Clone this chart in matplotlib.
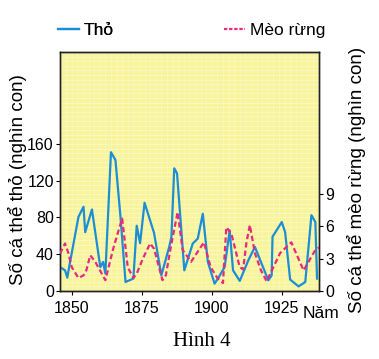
import matplotlib
matplotlib.use("Agg")
import matplotlib.pyplot as plt
from matplotlib import font_manager
from matplotlib.lines import Line2D

# font: narrow sans if available
names = set(f.name for f in font_manager.fontManager.ttflist)
sans = "Liberation Sans Narrow" if "Liberation Sans Narrow" in names else "Liberation Sans"
plt.rcParams['font.family'] = [sans, 'DejaVu Sans']

# hare (Thỏ), thousands
hare_years = [1845.8, 1847.6, 1848.4, 1849.4, 1852.4, 1854.2, 1854.8, 1857.2, 1860.2,
              1861.2, 1862.0, 1864.0, 1865.6, 1867.4, 1869.2, 1872.0, 1873.2, 1874.4,
              1876.0, 1879.4, 1882.0, 1884.8, 1885.6, 1886.6, 1887.6, 1890.2, 1893.2,
              1895.0, 1896.8, 1898.6, 1901.0, 1902.2, 1904.6, 1906.4, 1907.6, 1910.0,
              1913.0, 1915.4, 1920.2, 1921.4, 1921.7, 1925.0, 1926.2, 1928.0, 1931.0,
              1933.4, 1935.6, 1937.0, 1937.6]
hare = [26, 22.5, 14.5, 31.6, 80.7, 91.6, 64, 88.7, 26,
        31.6, 19, 151, 142.5, 80.7, 9.8, 13.5, 71, 52,
        96, 63, 17, 48, 59, 133.5, 128, 22.5, 51.6,
        57, 84, 31.6, 8, 13.5, 26, 66, 22.5, 11,
        33, 48, 11.6, 17, 59, 75, 64, 12.4, 5,
        9.8, 82.5, 75, 13.5]

# lynx (Mèo rừng), thousands
lynx_years = [1845.8, 1847.6, 1848.8, 1850.0, 1852.4, 1854.2, 1855.2, 1856.6, 1858.4,
              1862.0, 1865.0, 1868.0, 1870.0, 1872.0, 1873.2, 1875.4, 1878.0, 1879.4,
              1882.4, 1883.6, 1885.4, 1887.8, 1889.6, 1892.6, 1897.2, 1899.6, 1902.0,
              1904.0, 1905.2, 1907.0, 1910.0, 1911.2, 1912.4, 1913.6, 1915.4, 1917.6,
              1919.6, 1924.4, 1928.4, 1932.8, 1937.0, 1938.8]
lynx = [3.46, 4.4, 3.5, 2.2, 1.2, 1.45, 1.9, 3.3, 2.7,
        1.0, 4.1, 6.7, 2.2, 1.2, 1.6, 3.0, 4.4, 3.9,
        1.0, 1.45, 4.1, 7.3, 3.8, 2.7, 4.5, 2.2, 1.2,
        0.74, 5.9, 5.3, 2.2, 2.0, 4.5, 6.1, 3.5, 1.9,
        0.9, 3.5, 4.5, 1.9, 3.8, 4.1]

hare_ticks = [0, 40, 80, 120, 160]
lynx_ticks = [0, 3, 6, 9]
year_ticks = [1850, 1875, 1900, 1925]

blue = '#1b8ed6'
pink = '#e52a80'

fig = plt.figure(figsize=(3.79, 3.59), dpi=100)
ax = fig.add_axes([60/379, 1-291/359, 259/379, 239/359])
ax.set_facecolor('#f8f49c')

# faint print texture grid
for yy in range(0, 262, 5):
    ax.axhline(yy, color='white', lw=0.5, alpha=0.45, zorder=0)
for xx in range(1846, 1939, 2):
    ax.axvline(xx, color='white', lw=0.5, alpha=0.35, zorder=0)

ax.plot(hare_years, hare, color=blue, lw=1.6, zorder=3)
ax.set_xlim(1845.8, 1938.3)
ax.set_ylim(0, 260)
ax.set_xticks(year_ticks)
ax.set_yticks(hare_ticks)
ax.tick_params(direction='out', length=3, width=0.8, pad=1.5, labelsize=11.5)
ax.tick_params(axis='x', pad=4)

ax2 = ax.twinx()
ax2.plot(lynx_years, lynx, color=pink, lw=1.6, dashes=(2.4, 1.4), zorder=3)
ax2.set_ylim(0, 22.1)
ax2.set_yticks(lynx_ticks)
ax2.tick_params(direction='out', length=3, width=0.8, pad=1.5, labelsize=11.5)

for a in (ax, ax2):
    for s in a.spines.values():
        s.set_linewidth(1.0)
        s.set_color('#222222')

fig.text(18/379, 1-180/359, 'Số cá thể thỏ (nghìn con)', rotation=90,
         ha='center', va='center', fontsize=13.5)
fig.text(356/379, 1-180/359, 'Số cá thể mèo rừng (nghìn con)', rotation=90,
         ha='center', va='center', fontsize=13.5)
fig.text(303/379, 1-313/359, 'Năm', ha='left', va='center', fontsize=12.5)
fig.text(202/379, 1-341/359, 'Hình 4', ha='center', va='center', fontsize=15,
         family=['Liberation Serif', 'DejaVu Serif'])

h1 = Line2D([], [], color=blue, lw=1.6)
h2 = Line2D([], [], color=pink, lw=1.6, dashes=(1.5, 0.8))
leg1 = fig.legend([h1], ['Thỏ'], loc='center left', bbox_to_anchor=(58/379, 1-30/359),
                  frameon=False, fontsize=12.5, handlelength=1.2, handletextpad=0.3,
                  borderaxespad=0, borderpad=0)
leg2 = fig.legend([h2], ['Mèo rừng'], loc='center left', bbox_to_anchor=(224/379, 1-30/359),
                  frameon=False, fontsize=12.5, handlelength=1.2, handletextpad=0.3,
                  borderaxespad=0, borderpad=0)
fig.add_artist(leg1)

fig.savefig('out.png', dpi=100)
